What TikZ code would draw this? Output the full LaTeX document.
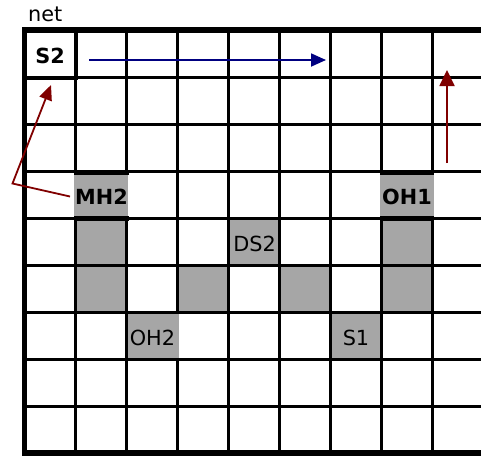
\documentclass[tikz,border=0pt]{standalone}
\usepackage{fontspec}
\setmainfont{DejaVu Sans}
\usetikzlibrary{arrows.meta}
\definecolor{cellgray}{RGB}{166,166,166}
\definecolor{navyblue}{RGB}{0,0,128}
\definecolor{darkred}{RGB}{128,0,0}
\begin{document}
\begin{tikzpicture}[x=1pt,y=-1pt,
  gridline/.style={line width=3pt,black},
  thickline/.style={line width=5pt,black},
  lab/.style={anchor=base,inner sep=0pt,font=\fontsize{20.8}{24}\selectfont},
  boldlab/.style={lab,font=\fontsize{20.8}{24}\selectfont\bfseries},
  bluearrow/.style={line width=1.8pt,navyblue,-{Triangle[length=15pt,width=13pt]}},
  redarrow/.style={line width=1.8pt,darkred,-{Triangle[length=16pt,width=15pt]}}
]
\useasboundingbox (0,0) rectangle (481,456);
% grey cells below the grid
\foreach \c/\r in {1/4,1/5,7/4,7/5,4/4,3/5,5/5,6/6}{
  \fill[cellgray] (24.5+51*\c,30+47*\r) rectangle ++(51,47);
}
% grid lines
\foreach \i in {1,...,8}{
  \draw[gridline] (24.5+51*\i,30) -- (24.5+51*\i,453);
  \draw[gridline] (24.5,30+47*\i) -- (483.5,30+47*\i);
}
% grey cells over the grid
\fill[cellgray] (74,172) rectangle (128,218);
\fill[cellgray] (380,172) rectangle (434,218);
\fill[cellgray] (128,313.5) rectangle (178.8,357.5);
\draw[thickline] (74,172.3) -- (128.5,172.3);
\draw[thickline] (74,218.4) -- (128.5,218.4);
\draw[thickline] (380,172) -- (434,172);
\draw[thickline] (380,218.3) -- (434,218.3);
% S2 box
\draw[line width=4.5pt] (24.5,30) rectangle (75.8,78);
% outer border
\draw[line width=5.5pt] (24.5,30) rectangle (483.5,453);
% labels
\node[lab,anchor=base west] (net) at (28,21) {net};
\node[boldlab] (s2) at (50,63.3) {S2};
\node[boldlab] (mh2) at (101.5,204.3) {MH2};
\node[boldlab] (oh1) at (407,204.3) {OH1};
\node[lab] (ds2) at (254.5,251.5) {DS2};
\node[lab] (oh2) at (152.5,345.3) {OH2};
\node[lab] (s1) at (356,345.3) {S1};
% arrows
\coordinate (bs) at (89,60);
\coordinate (be) at (326,60);
\draw[bluearrow] (bs) -- (be);
\coordinate (rs) at (447,163);
\coordinate (re) at (447,70);
\draw[redarrow] (rs) -- (re);
\coordinate (ps) at (70,196.5);
\coordinate (pm) at (12.5,183.5);
\coordinate (pe) at (51,85);
\draw[redarrow,-{Triangle[length=15pt,width=13pt]}] (ps) -- (pm) -- (pe);
\end{tikzpicture}
\end{document}
